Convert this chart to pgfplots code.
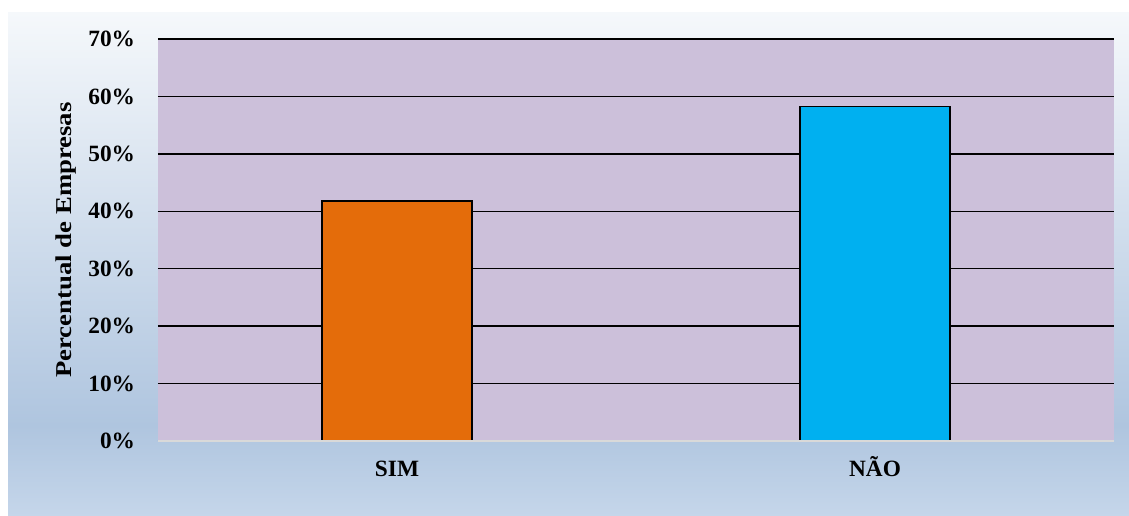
\documentclass[border=0pt]{standalone}
\usepackage{pgfplots}
\pgfplotsset{compat=1.18}
\usepackage{fontspec}
\setmainfont{Liberation Serif}

\definecolor{plotbg}{HTML}{CCC0DA}
\definecolor{barsim}{HTML}{E46C0A}
\definecolor{barnao}{HTML}{00B0F0}
\definecolor{bgtop}{HTML}{F5F8FB}
\definecolor{bgmid}{HTML}{AFC5DF}
\definecolor{bgbot}{HTML}{C5D6EA}
\definecolor{axisgray}{HTML}{D9D9D9}

% chart-area fill: pale at the top, deeper blue near the base, a touch lighter at the very bottom
\pgfdeclareverticalshading{chartbg}{100bp}{%
  color(0bp)=(bgbot); color(25bp)=(bgbot); color(34bp)=(bgmid);
  color(75bp)=(bgtop); color(100bp)=(bgtop)}

\newcommand{\lblfont}{\fontsize{17.5}{20}\selectfont\bfseries}

\begin{document}
\begin{tikzpicture}
\path[use as bounding box] (0,0) rectangle (846.75pt,387pt);
\shade[shading=chartbg] (6pt,0pt) rectangle (846.75pt,377.25pt);
\begin{axis}[
  at={(118.5pt,56.25pt)}, anchor=south west,
  scale only axis, width=717pt, height=301.5pt,
  xmin=0, xmax=2, ymin=0, ymax=70,
  axis line style={draw=none},
  axis background/.style={fill=plotbg},
  major tick length=0pt,
  xtick={0.5,1.5}, xticklabels={SIM, NÃO},
  ytick={0,10,...,70},
  yticklabels={0\%,10\%,20\%,30\%,40\%,50\%,60\%,70\%},
  ymajorgrids,
  grid style={black, line width=1.1pt},
  tick label style={font=\lblfont},
  yticklabel style={anchor=east, inner sep=0pt, xshift=-17pt},
  xticklabel style={anchor=base, inner sep=0pt, yshift=-27pt},
  ylabel={\scalebox{1.18}[1]{Percentual de Empresas}},
  ylabel style={font=\fontsize{17}{20}\selectfont\bfseries,
    at={(axis description cs:-0.0962,0.5)}, anchor=center, rotate=0},
  clip=false,
]
\addplot[ybar, bar width=112.5pt, bar shift=0pt, fill=barsim, draw=black, line width=1pt]
  coordinates {(0.5,41.8)};
\addplot[ybar, bar width=112.5pt, bar shift=0pt, fill=barnao, draw=black, line width=1pt]
  coordinates {(1.5,58.2)};
\draw[axisgray, line width=1.3pt] (axis cs:0,0) -- (axis cs:2,0);
\end{axis}
\end{tikzpicture}
\end{document}
